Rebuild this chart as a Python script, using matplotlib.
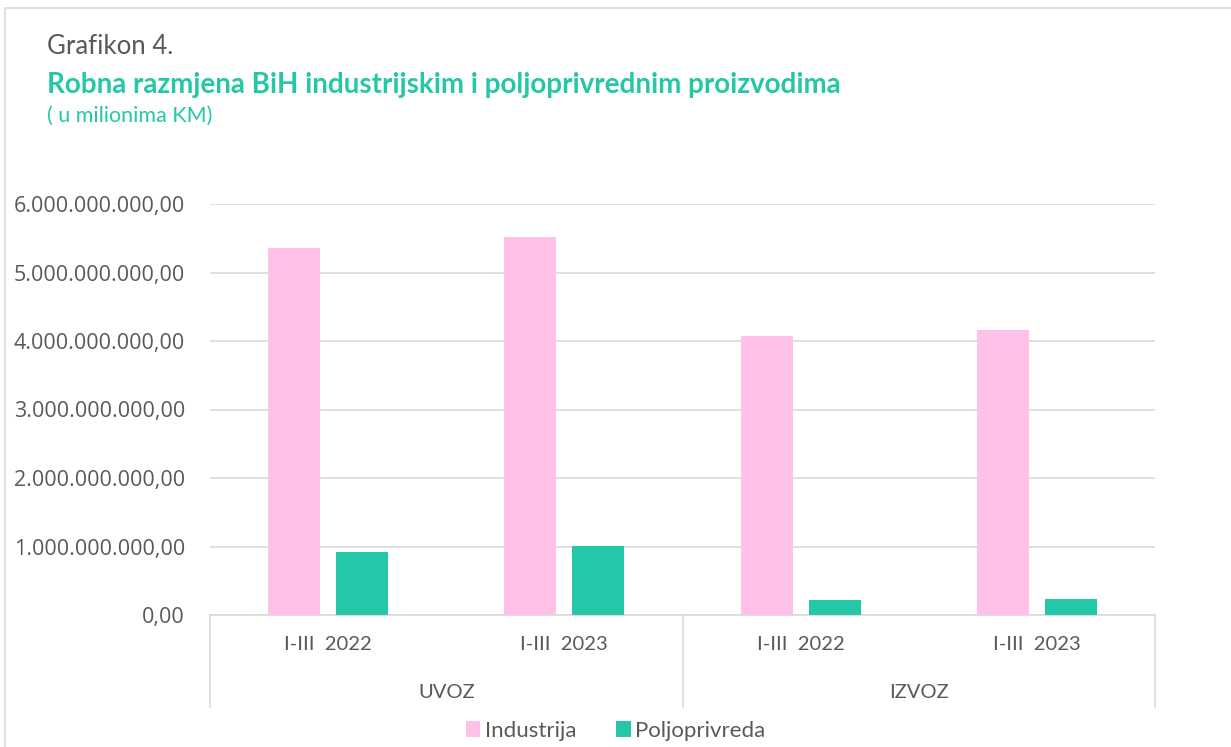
import matplotlib
matplotlib.use("Agg")
import matplotlib.pyplot as plt
from matplotlib.patches import Rectangle
import numpy as np

plt.rcParams['font.family'] = ['Lato', 'DejaVu Sans']

periods = ["I-III  2022", "I-III  2023", "I-III  2022", "I-III  2023"]
groups = ["UVOZ", "IZVOZ"]
industrija = [5.36e9, 5.52e9, 4.07e9, 4.16e9]
poljoprivreda = [0.92e9, 1.01e9, 0.22e9, 0.235e9]
yticks = [0, 1e9, 2e9, 3e9, 4e9, 5e9, 6e9]

PINK = "#FFC1E8"
TEAL = "#24C7A7"
GRAY = "#595959"
GRID = "#D9D9D9"

fig = plt.figure(figsize=(12.31, 7.47), dpi=100)
fig.patches.append(Rectangle((5/1231, -0.01), 1.1, 1 - 8/747 + 0.01, transform=fig.transFigure,
                             fill=False, edgecolor="#D9D9D9", linewidth=1.2))

ax = fig.add_axes([210/1231, 1 - 615/747, 945/1231, 411/747])
x = np.arange(len(periods))
w = 0.22
off = 0.144
ax.bar(x - off, industrija, w, color=PINK, label="Industrija", zorder=3)
ax.bar(x + off, poljoprivreda, w, color=TEAL, label="Poljoprivreda", zorder=3)

ax.set_xlim(-0.5, len(periods) - 0.5)
ax.set_ylim(0, 6e9)
ax.set_yticks(yticks)
ax.set_yticklabels([("{:,.2f}".format(v)).replace(",", "X").replace(".", ",").replace("X", ".") for v in yticks],
                   fontsize=15.5, color=GRAY, family=["Open Sans", "DejaVu Sans"])
ax.tick_params(axis='y', length=0, pad=18)
ax.set_xticks([])
ax.grid(axis='y', color=GRID, linewidth=1.2, zorder=0)
for s in ["top", "right", "left"]:
    ax.spines[s].set_visible(False)
ax.spines["bottom"].set_color(GRID)
ax.spines["bottom"].set_linewidth(1.2)

trans = ax.get_xaxis_transform()
for i, p in enumerate(periods):
    ax.text(i, -30/411, p, transform=trans, ha="center", va="center", fontsize=14.5, color=GRAY)
for g, gname in enumerate(groups):
    ax.text(2 * g + 0.5, -77/411, gname, transform=trans, ha="center", va="center", fontsize=14.5, color=GRAY)
for xv in [-0.5, 1.5, 3.5]:
    ax.plot([xv, xv], [0, -92/411], transform=trans, color=GRID, linewidth=1.2, clip_on=False)

leg = fig.legend(loc="center", bbox_to_anchor=(0.5, 1 - 731/747), ncol=2, frameon=False,
                 fontsize=16, labelcolor=GRAY, handlelength=0.65, handleheight=0.75,
                 handletextpad=0.2, columnspacing=1.8)

fig.text(47/1231, 1 - 46/747, "Grafikon 4.", fontsize=18.5, color=GRAY, va="center", ha="left")
fig.text(47/1231, 1 - 85/747, "Robna razmjena BiH industrijskim i poljoprivrednim proizvodima",
         fontsize=20, color=TEAL, fontweight="bold", va="center", ha="left")
fig.text(47/1231, 1 - 116/747, "( u milionima KM)", fontsize=15.5, color=TEAL, va="center", ha="left")

fig.savefig("out.png", dpi=100)
